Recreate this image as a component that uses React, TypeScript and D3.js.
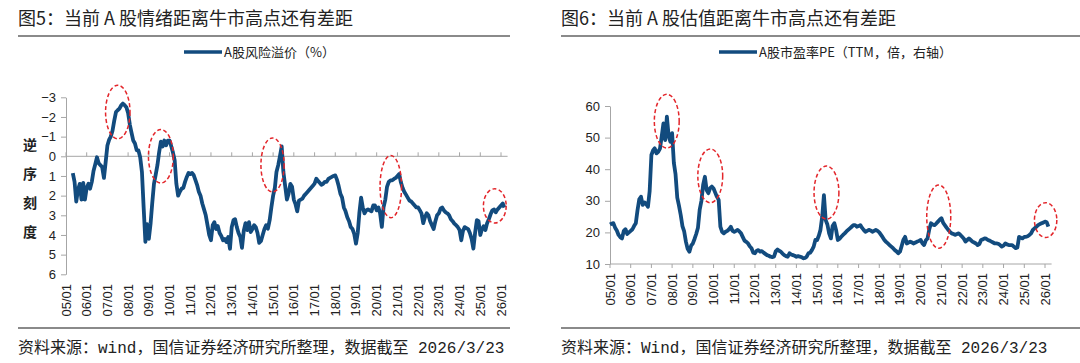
import { useEffect, useRef } from "react";
import * as d3 from "d3";

// monthly observations from Jan 2005, one row per year (Jan..Dec)
const START = new Date(2005, 0, 1);

// A股风险溢价（%）, drawn on a reversed axis
const riskPremium = [
  [null, null, null, null, 0.85, 1.3, 2.3, 1.7, 1.4, 2.2, 1.35, 2.2], // 2005
  [1.6, 1.4, 1.65, 1.3, 0.75, 0.4, 0.05, 0.35, 0.45, 0.55, 1.1, 0.3], // 2006
  [-0.55, -0.85, -1.0, -1.3, -1.8, -2.25, -2.34, -2.42, -2.59, -2.68, -2.6, -2.5], // 2007
  [-2.2, -1.6, -1.2, -0.8, -0.65, -0.3, -0.3, 0.05, 0.8, 2.6, 4.35, 3.45], // 2008
  [4.2, 3.4, 2.4, 1.4, 0.95, 0.45, -0.2, -0.75, -0.5, -0.8, -0.56, -0.8], // 2009
  [-0.8, -0.5, -0.2, 0.2, 1.4, 2.0, 1.8, 1.65, 1.6, 1.3, 1.05, 0.85], // 2010
  [0.9, 0.85, 0.95, 1.2, 1.45, 1.8, 2.0, 2.4, 2.7, 3.0, 3.5, 4.0], // 2011
  [4.27, 3.5, 3.35, 3.7, 3.55, 3.9, 4.05, 4.27, 4.2, 4.36, 4.1, 4.7], // 2012
  [3.6, 3.25, 3.2, 3.6, 3.9, 4.1, 4.65, 3.8, 3.4, 3.75, 3.35, 3.85], // 2013
  [3.7, 3.5, 3.6, 3.9, 4.4, 4.3, 4.0, 3.7, 3.5, 3.68, 3.25, 2.6], // 2014
  [2.0, 1.6, 0.8, 0.45, 0.0, -0.5, 0.8, 1.5, 2.2, 1.9, 1.4, 1.55], // 2015
  [2.2, 2.45, 2.8, 2.25, 2.2, 2.15, 2.0, 1.9, 1.8, 1.7, 1.6, 1.5], // 2016
  [1.39, 1.14, 1.25, 1.35, 1.45, 1.4, 1.3, 1.3, 1.15, 1.1, 1.05, 1.0], // 2017
  [0.97, 1.2, 1.5, 1.9, 2.1, 2.6, 2.8, 3.1, 3.3, 3.6, 3.7, 3.95], // 2018
  [4.44, 3.9, 2.9, 2.1, 2.6, 2.9, 2.75, 2.7, 2.75, 2.8, 2.5, 2.5], // 2019
  [2.75, 2.6, 2.9, 3.59, 2.6, 2.2, 1.56, 1.3, 1.22, 1.22, 1.15, 1.1], // 2020
  [1.0, 0.9, 1.3, 1.6, 1.8, 1.95, 2.1, 2.25, 2.3, 2.4, 2.5, 2.6], // 2021
  [2.6, 2.75, 2.9, 3.4, 3.1, 2.9, 3.0, 3.3, 3.5, 3.7, 3.3, 3.0], // 2022
  [2.9, 2.66, 2.6, 2.75, 2.85, 2.9, 3.0, 3.2, 3.3, 3.42, 3.5, 3.6], // 2023
  [3.75, 4.27, 3.8, 3.6, 3.65, 3.7, 3.9, 4.2, 4.69, 3.9, 3.25, 3.3], // 2024
  [4.0, 3.7, 3.55, 3.75, 3.4, 3.2, 2.95, 2.75, 2.7, 2.85, 2.7, 2.6], // 2025
  [2.5, 2.4, 2.6], // 2026
];

// A股市盈率PE（TTM，倍）
const peTTM = [
  [22.5, 22.8, 22.9, 21.5, 20.6, 19.2, 18.5, 18.1, 20.5, 21.0, 19.5, 20.0], // 2005
  [20.5, 21.0, 22.0, 22.9, 27.0, 30.5, 31.3, 28.7, 29.5, 29.0, 28.1, 33.0], // 2006
  [44.5, 46.0, 46.6, 45.0, 45.5, 46.5, 50.3, 54.5, 49.2, 56.6, 50.5, 48.7], // 2007
  [51.4, 42.0, 38.5, 31.0, 28.5, 25.5, 22.0, 20.3, 17.0, 14.8, 13.9, 15.8], // 2008
  [16.5, 18.0, 19.5, 21.5, 27.1, 30.0, 35.0, 37.6, 33.4, 32.4, 34.0, 34.5], // 2009
  [33.9, 32.5, 31.3, 30.3, 21.8, 20.2, 19.7, 20.2, 20.5, 21.0, 21.8, 20.5], // 2010
  [20.2, 20.5, 20.8, 20.3, 19.7, 18.5, 17.4, 17.0, 16.5, 15.6, 15.0, 13.6], // 2011
  [13.4, 14.2, 14.4, 13.9, 14.1, 13.6, 13.2, 12.8, 12.6, 12.3, 12.2, 12.3], // 2012
  [14.0, 14.6, 14.2, 13.9, 13.3, 12.8, 12.5, 12.3, 13.4, 13.0, 12.8, 12.6], // 2013
  [12.3, 12.5, 12.3, 12.2, 11.8, 11.9, 12.3, 13.4, 13.6, 14.4, 15.5, 17.6], // 2014
  [17.6, 19.0, 20.8, 25.0, 31.8, 23.9, 22.5, 19.7, 18.1, 22.0, 22.9, 20.8], // 2015
  [17.6, 18.0, 18.6, 19.2, 19.7, 20.3, 20.8, 21.3, 21.8, 22.3, 22.3, 21.8], // 2016
  [22.0, 22.3, 21.5, 20.8, 20.2, 20.5, 20.8, 20.6, 20.2, 20.5, 20.8, 20.5], // 2017
  [20.0, 19.2, 18.5, 17.6, 17.0, 16.5, 16.0, 15.5, 15.0, 14.4, 14.0, 13.4], // 2018
  [13.9, 15.8, 17.6, 18.6, 16.5, 16.8, 17.1, 16.8, 16.5, 16.8, 17.1, 17.3], // 2019
  [17.6, 16.5, 16.0, 17.5, 18.1, 21.0, 22.9, 22.5, 22.3, 22.8, 23.4, 24.0], // 2020
  [24.5, 23.0, 22.3, 21.5, 20.8, 20.2, 19.7, 19.5, 19.2, 19.5, 19.7, 19.2], // 2021
  [18.6, 18.0, 17.1, 17.6, 18.1, 17.6, 17.1, 16.8, 16.5, 16.0, 16.3, 17.6], // 2022
  [17.8, 18.1, 18.0, 17.6, 17.4, 17.1, 16.8, 16.5, 16.5, 16.4, 16.0, 15.5], // 2023
  [15.8, 16.5, 16.2, 16.0, 16.0, 16.0, 15.5, 15.0, 15.2, 18.6, 18.3, 18.1], // 2024
  [18.6, 18.6, 18.8, 19.2, 19.7, 20.8, 21.3, 21.8, 22.3, 22.6, 22.9, 23.1], // 2025
  [23.4, 23.2, 21.8], // 2026
];

const leftTicks = [-3, -2, -1, 0, 1, 2, 3, 4, 5, 6];
const rightTicks = [10, 20, 30, 40, 50, 60];

// red dashed circles: centre (decimal year, value) and half-widths (years, value units)
const leftCircles = [
  [2007.5, -2.25, 0.59, 1.36],
  [2009.58, 0.0, 0.6, 1.36],
  [2014.97, 0.44, 0.56, 1.37],
  [2020.68, 1.54, 0.52, 1.58],
  [2025.7, 2.52, 0.55, 0.87],
];
const rightCircles = [
  [2007.74, 55.2, 0.6, 8.5],
  [2009.84, 37.9, 0.6, 8.5],
  [2015.45, 32.6, 0.6, 8.4],
  [2020.87, 25.0, 0.58, 10.0],
  [2026.03, 23.9, 0.54, 5.5],
];

const NAVY = "#124b7e";
const GRID = "#a6a6a6";
const CJK = "'Noto Sans CJK SC', sans-serif";
const LATIN = "'Liberation Sans', 'Noto Sans CJK SC', sans-serif";
const MONO = "'Liberation Mono', 'Noto Sans CJK SC', monospace";

const flat = (rows) =>
  rows.flat().map((v, i) => ({ date: d3.timeMonth.offset(START, i), v }));
const yearDate = (yr) => new Date(START.getTime() + (yr - 2005) * 365.25 * 864e5);

function drawPanel(svg, cfg) {
  const g = svg.append("g");
  const years = d3.timeYear.range(new Date(2005, 0, 1), new Date(2026, 0, 2));
  const x = d3.scaleTime().domain([new Date(2005, 0, 1), new Date(2026, 0, 1)]).range(cfg.xRange);
  const y = d3.scaleLinear().domain(cfg.yDomain).range(cfg.yRange);
  const axisEnd = x(new Date(2026, 2, 23)) + 2;

  // title and rules
  g.append("text").attr("x", cfg.left).attr("y", 25).text(cfg.title)
    .style("font-family", CJK).style("font-size", "18px").attr("fill", "#222");
  g.append("line").attr("x1", cfg.left).attr("x2", cfg.right).attr("y1", 36).attr("y2", 36)
    .attr("stroke", "#8a8a8a").attr("stroke-width", 2);
  g.append("line").attr("x1", cfg.left).attr("x2", cfg.right).attr("y1", 328).attr("y2", 328)
    .attr("stroke", "#8a8a8a").attr("stroke-width", 2);
  g.append("text").attr("x", cfg.left).attr("y", 353).text(cfg.source)
    .style("font-family", MONO).style("font-size", "16px").attr("fill", "#222");

  // legend
  g.append("line").attr("x1", cfg.legendX).attr("x2", cfg.legendX + 38).attr("y1", 52).attr("y2", 52)
    .attr("stroke", NAVY).attr("stroke-width", 3.5);
  g.append("text").attr("x", cfg.legendX + 40).attr("y", 56.5).text(cfg.legend)
    .style("font-family", CJK).style("font-size", "13px").attr("fill", "#222");

  // y axis
  g.append("g").attr("transform", `translate(${cfg.xRange[0]},0)`)
    .call(d3.axisLeft(y).tickValues(cfg.yTicks).tickSize(5).tickSizeOuter(0).tickPadding(5).tickFormat(d3.format("d")))
    .call((a) => a.select(".domain").attr("stroke", GRID))
    .call((a) => a.selectAll(".tick line").attr("stroke", GRID))
    .call((a) => a.selectAll("text").style("font-family", LATIN).style("font-size", "13px").attr("fill", "#222"));

  // category axis line with yearly ticks
  const ay = y(cfg.baseValue);
  g.append("line").attr("x1", cfg.xRange[0]).attr("x2", axisEnd).attr("y1", ay).attr("y2", ay)
    .attr("stroke", GRID).attr("stroke-width", 1);
  g.append("g").selectAll("line").data(years).join("line")
    .attr("x1", (d) => x(d)).attr("x2", (d) => x(d))
    .attr("y1", ay).attr("y2", ay + cfg.tickDir * 4)
    .attr("stroke", GRID);

  // rotated year labels
  g.append("g").selectAll("text").data(years).join("text")
    .attr("transform", (d) => `translate(${x(d) + 4.5},${cfg.labelTop}) rotate(-90)`)
    .attr("text-anchor", "end")
    .text(d3.timeFormat("%y/%m"))
    .style("font-family", LATIN).style("font-size", "13px").attr("fill", "#222");

  // series
  const line = d3.line().defined((d) => d.v != null).x((d) => x(d.date)).y((d) => y(d.v));
  g.append("path").datum(flat(cfg.series)).attr("d", line)
    .attr("fill", "none").attr("stroke", NAVY).attr("stroke-width", 3.8).attr("stroke-linejoin", "round");

  // highlight circles
  g.append("g").selectAll("ellipse").data(cfg.circles).join("ellipse")
    .attr("cx", (d) => x(yearDate(d[0])))
    .attr("cy", (d) => y(d[1]))
    .attr("rx", (d) => x(yearDate(d[0] + d[2])) - x(yearDate(d[0])))
    .attr("ry", (d) => Math.abs(y(d[1] + d[3]) - y(d[1])))
    .attr("fill", "none").attr("stroke", "#e3262b").attr("stroke-width", 1.5).attr("stroke-dasharray", "4 2.5");

  return g;
}

export default function App() {
  const ref = useRef(null);

  useEffect(() => {
    const svg = d3.select(ref.current);
    svg.selectAll("*").remove();

    drawPanel(svg, {
      left: 18, right: 510,
      title: "图5：当前 A 股情绪距离牛市高点还有差距",
      source: "资料来源：wind，国信证券经济研究所整理，数据截至 2026/3/23",
      legend: "A股风险溢价（%）", legendX: 184,
      xRange: [66, 501], yDomain: [-3, 6], yRange: [97.3, 274.3], yTicks: leftTicks,
      baseValue: 0, tickDir: -1, labelTop: 284,
      series: riskPremium, circles: leftCircles,
    });
    drawPanel(svg, {
      left: 561, right: 1080,
      title: "图6：当前 A 股估值距离牛市高点还有差距",
      source: "资料来源：Wind，国信证券经济研究所整理，数据截至 2026/3/23",
      legend: "A股市盈率PE（TTM，倍，右轴）", legendX: 719,
      xRange: [610, 1045], yDomain: [10, 60], yRange: [264, 106], yTicks: rightTicks,
      baseValue: 10, tickDir: 1, labelTop: 273,
      series: peTTM, circles: rightCircles,
    });

    // reversed-scale note on the left panel
    svg.append("g").selectAll("text").data(["逆", "序", "刻", "度"]).join("text")
      .attr("x", 30).attr("y", (d, i) => 150 + i * 29)
      .attr("text-anchor", "middle")
      .text((d) => d)
      .style("font-family", CJK).style("font-size", "14px").style("font-weight", "bold").attr("fill", "#222");

    return () => { svg.selectAll("*").remove(); };
  }, []);

  return (
    <svg ref={ref} width={1080} height={363}
      style={{ position: "absolute", left: 0, top: 0, background: "#fff" }} />
  );
}
